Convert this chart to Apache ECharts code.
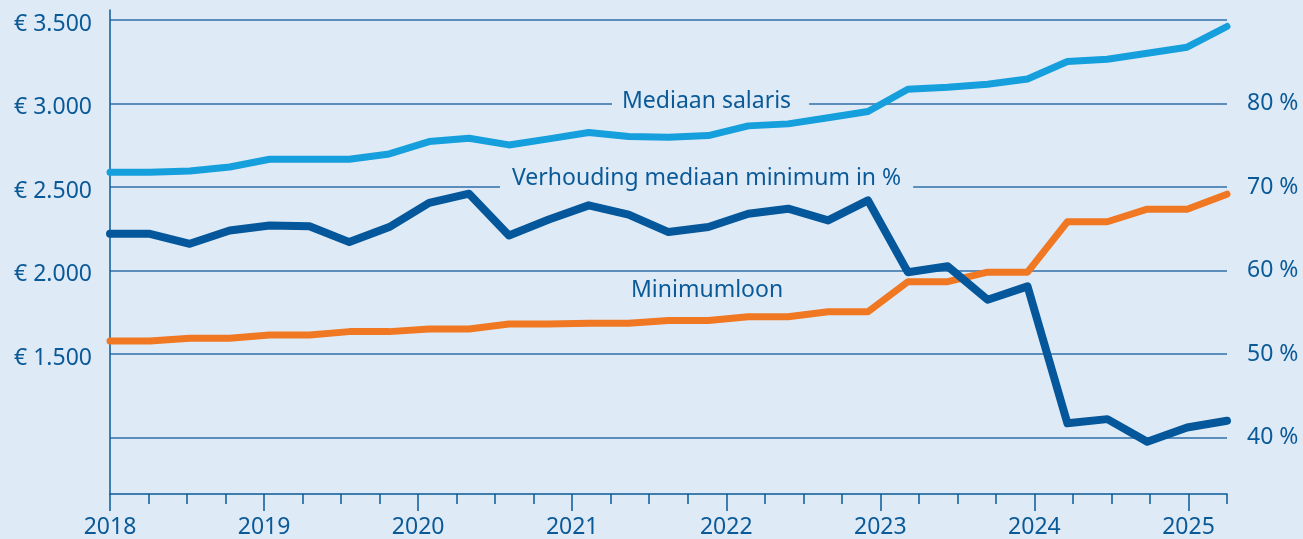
<!DOCTYPE html>
<html>
<head>
<meta charset="utf-8">
<script src="https://cdn.jsdelivr.net/npm/echarts@6/dist/echarts.min.js"></script>
<style>
  html, body { margin: 0; padding: 0; background: #dfeaf7; }
  #chart { width: 1303px; height: 539px; }
</style>
</head>
<body>
<div id="chart"></div>
<script>
// kwartalen van 2018 K1 t/m 2025 K1
const kwartalen = [
  '2018K1', '2018K2', '2018K3', '2018K4',
  '2019K1', '2019K2', '2019K3', '2019K4',
  '2020K1', '2020K2', '2020K3', '2020K4',
  '2021K1', '2021K2', '2021K3', '2021K4',
  '2022K1', '2022K2', '2022K3', '2022K4',
  '2023K1', '2023K2', '2023K3', '2023K4',
  '2024K1', '2024K2', '2024K3', '2024K4',
  '2025K1'
];

// bedragen in euro per maand
const mediaanSalaris = [
  2588, 2588, 2596, 2620, 2666, 2666, 2666, 2698,
  2772, 2792, 2752, 2788, 2826, 2802, 2798, 2808,
  2866, 2878, 2915, 2952, 3085, 3097, 3115, 3147,
  3251, 3265, 3301, 3337, 3461
];
const minimumloon = [
  1578, 1578, 1594, 1594, 1614, 1614, 1634, 1634,
  1650, 1650, 1680, 1680, 1684, 1684, 1700, 1700,
  1723, 1723, 1753, 1753, 1933, 1933, 1990, 1990,
  2292, 2292, 2367, 2367, 2457
];
// verhouding mediaan / minimum in %
const verhouding = [
  64.4, 64.4, 63.2, 64.8, 65.4, 65.3, 63.4, 65.2,
  68.1, 69.2, 64.2, 66.1, 67.8, 66.7, 64.6, 65.2,
  66.8, 67.4, 66.0, 68.4, 59.8, 60.5, 56.5, 58.1,
  41.7, 42.2, 39.5, 41.2, 42.0
];

// tijdas: jaartallen en kwartaalstreepjes
const jaren = [2018, 2019, 2020, 2021, 2022, 2023, 2024, 2025];
const kwartaalStreepjes = [
  2018, 2018.25, 2018.5, 2018.75, 2019, 2019.25, 2019.5, 2019.75,
  2020, 2020.25, 2020.5, 2020.75, 2021, 2021.25, 2021.5, 2021.75,
  2022, 2022.25, 2022.5, 2022.75, 2023, 2023.25, 2023.5, 2023.75,
  2024, 2024.25, 2024.5, 2024.75, 2025, 2025.25
];

const donkerblauw = '#0b5a98';
const lijnKleur = '#2f6fa8';
const font = 'Noto Sans';

const chart = echarts.init(document.getElementById('chart'));

const option = {
  backgroundColor: '#dfeaf7',
  animation: false,
  textStyle: { fontFamily: font },
  grid: [
    { left: 110, right: 76, top: 20, bottom: 18 },  // data
    { left: 110, right: 76, top: 10, bottom: 45 },  // kader met kwartaalstreepjes
    { left: 110, right: 76, top: 10, bottom: 45 }   // jaartallen
  ],
  xAxis: [
    {
      gridIndex: 0,
      type: 'category',
      data: kwartalen,
      boundaryGap: false,
      show: false
    },
    {
      gridIndex: 1,
      type: 'value',
      min: 2018,
      max: 2025.25,
      axisLine: { show: true, lineStyle: { color: donkerblauw, width: 1.5 } },
      axisTick: { show: true, customValues: kwartaalStreepjes, length: 10, lineStyle: { color: donkerblauw, width: 1.5 } },
      axisLabel: { show: false },
      splitLine: { show: false }
    },
    {
      gridIndex: 2,
      type: 'value',
      min: 2018,
      max: 2025.25,
      axisLine: { show: false },
      axisTick: { show: true, customValues: jaren, length: 17, lineStyle: { color: donkerblauw, width: 1.5 } },
      axisLabel: {
        show: true,
        customValues: jaren,
        formatter: v => String(v),
        color: donkerblauw,
        fontSize: 23,
        fontFamily: font,
        margin: 22
      },
      splitLine: { show: false }
    }
  ],
  yAxis: [
    {
      gridIndex: 0,
      type: 'value',
      position: 'left',
      min: 500,
      max: 3500,
      interval: 500,
      axisLine: { show: false },
      axisTick: { show: false },
      splitLine: { show: true, showMinLine: false, lineStyle: { color: lijnKleur, width: 1.5 } },
      axisLabel: {
        margin: 18,
        formatter: v => v < 1500 ? '' : '{e|€ ' + String(v).replace(/\B(?=(\d{3})+$)/g, '.') + '}',
        rich: {
          e: { color: donkerblauw, fontSize: 23, fontFamily: font, padding: [8, 0, 0, 0] }
        }
      }
    },
    {
      gridIndex: 0,
      type: 'value',
      position: 'right',
      min: 30,
      max: 90,
      interval: 10,
      axisLine: { show: false },
      axisTick: { show: false },
      splitLine: { show: false },
      axisLabel: {
        color: donkerblauw,
        fontSize: 23,
        fontFamily: font,
        margin: 20,
        formatter: v => (v < 40 || v > 80) ? '' : v + ' %'
      }
    },
    {
      gridIndex: 1,
      type: 'value',
      min: 0,
      max: 1,
      axisLine: { show: true, lineStyle: { color: donkerblauw, width: 1.5 } },
      axisTick: { show: false },
      axisLabel: { show: false },
      splitLine: { show: false }
    },
    {
      gridIndex: 2,
      type: 'value',
      min: 0,
      max: 1,
      show: false
    }
  ],
  graphic: [
    {
      type: 'text', left: 612, top: 90, z: 10,
      style: {
        text: 'Mediaan salaris', fill: donkerblauw, font: '23px "Noto Sans"',
        backgroundColor: '#dfeaf7', padding: [0, 18, 0, 10]
      }
    },
    {
      type: 'text', left: 500, top: 167, z: 10,
      style: {
        text: 'Verhouding mediaan minimum in %', fill: donkerblauw, font: '23px "Noto Sans"',
        backgroundColor: '#dfeaf7', padding: [0, 12, 0, 12]
      }
    },
    {
      type: 'text', left: 631, top: 279, z: 10,
      style: { text: 'Minimumloon', fill: donkerblauw, font: '23px "Noto Sans"' }
    }
  ],
  series: [
    {
      name: 'Mediaan salaris',
      type: 'line',
      xAxisIndex: 0,
      yAxisIndex: 0,
      data: mediaanSalaris,
      symbol: 'none',
      lineStyle: { color: '#159fdc', width: 7, cap: 'round', join: 'round' },
      z: 3
    },
    {
      name: 'Minimumloon',
      type: 'line',
      xAxisIndex: 0,
      yAxisIndex: 0,
      data: minimumloon,
      symbol: 'none',
      lineStyle: { color: '#f07822', width: 7, cap: 'round', join: 'round' },
      z: 4
    },
    {
      name: 'Verhouding mediaan minimum in %',
      type: 'line',
      xAxisIndex: 0,
      yAxisIndex: 1,
      data: verhouding,
      symbol: 'none',
      lineStyle: { color: '#03579a', width: 8, cap: 'round', join: 'round' },
      z: 5
    }
  ]
};

chart.setOption(option);
</script>
</body>
</html>
